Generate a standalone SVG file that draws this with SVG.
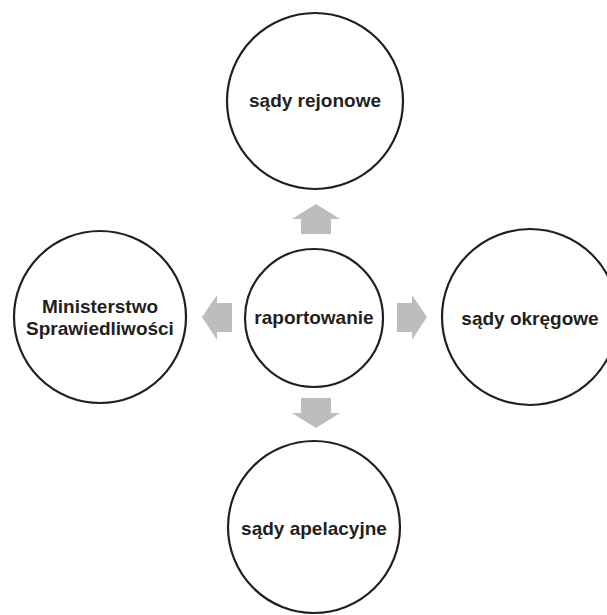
<svg xmlns="http://www.w3.org/2000/svg" width="607" height="615" viewBox="0 0 607 615">
<style>
.c{fill:#fff;stroke:#231f20;stroke-width:2.2}
.t{font-family:"Liberation Sans",Arial,sans-serif;font-weight:bold;font-size:19px;fill:#231f20;text-anchor:middle}
.a{fill:#bdbdbd}
</style>
<rect width="607" height="615" fill="#fff"/>
<g id="connectors">
<polygon class="a" points="316,204 340,219 331,219 331,234 301,234 301,219 292,219"/>
<polygon class="a" points="202,317 217,295 217,303 232,303 232,332 217,332 217,340"/>
<polygon class="a" points="427,317 412,295 412,303 397,303 397,332 412,332 412,340"/>
<polygon class="a" points="316,428 340,413 331,413 331,398 301,398 301,413 292,413"/>
</g>
<g id="n-center"><circle class="c" cx="314" cy="318" r="69"/><text class="t" x="314" y="324">raportowanie</text></g>
<g id="n-top"><circle class="c" cx="315" cy="101" r="88"/><text class="t" x="315" y="107">sądy rejonowe</text></g>
<g id="n-left"><circle class="c" cx="100" cy="317" r="86"/><text class="t" x="100" y="313">Ministerstwo</text><text class="t" x="100" y="335">Sprawiedliwości</text></g>
<g id="n-right"><circle class="c" cx="530" cy="317" r="88"/><text class="t" x="530" y="325">sądy okręgowe</text></g>
<g id="n-bottom"><circle class="c" cx="314" cy="527" r="86"/><text class="t" x="314" y="535">sądy apelacyjne</text></g>
</svg>
